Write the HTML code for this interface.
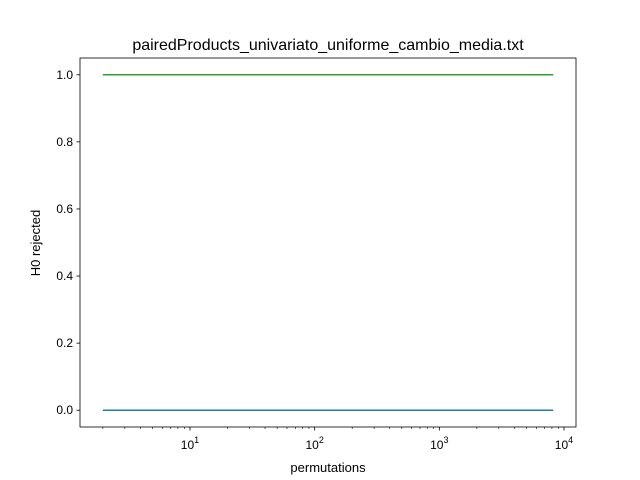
<!DOCTYPE html>
<html><head><meta charset="utf-8"><style>body{margin:0;background:#fff}svg{display:block;font-family:"Liberation Sans","DejaVu Sans",sans-serif}</style></head>
<body>
<svg id="c" width="640" height="480">
<rect width="640" height="480" fill="#fff"/>
<text x="328" y="50" font-size="16" text-anchor="middle">pairedProducts_univariato_uniforme_cambio_media.txt</text>
<text x="328" y="472" font-size="13" text-anchor="middle">permutations</text>
<text x="40" y="243" font-size="13" text-anchor="middle" transform="rotate(-90 40 243)">H0 rejected</text>
<g id="g"></g>
</svg>
<script>
const perms=[2,4,8,16,32,64,128,256,512,1024,2048,4096,8192];
const seriesBlue=[0,0,0,0,0,0,0,0,0,0,0,0,0];
const seriesOrange=[1,1,1,1,1,1,1,1,1,1,1,1,1];
const seriesGreen=[1,1,1,1,1,1,1,1,1,1,1,1,1];
const yTicks=[0,0.2,0.4,0.6,0.8,1.0];
const xTicks=[1,2,3,4];
const L=80,R=576,T=58,B=427;
const xmin=0.1177,xmax=4.0963;
const X=v=>L+(Math.log10(v)-xmin)/(xmax-xmin)*(R-L);
const Y=v=>B-(v+0.05)/1.1*(B-T);
const NS='http://www.w3.org/2000/svg',g=document.getElementById('g');
function mk(t,a){const e=document.createElementNS(NS,t);for(const k in a)e.setAttribute(k,a[k]);g.appendChild(e);return e;}
[[seriesBlue,'#1f77b4','series-blue'],[seriesOrange,'#ff7f0e','series-orange'],[seriesGreen,'#2ca02c','series-green']].forEach(([s,c,n])=>{
const p=mk('polyline',{points:perms.map((v,i)=>X(v)+','+Y(s[i])).join(' '),fill:'none',stroke:c,'stroke-width':1.5});


});
const f=mk('rect',{x:L,y:T,width:R-L,height:B-T,fill:'none',stroke:'#000','stroke-width':0.8});


yTicks.forEach(v=>{const y=Y(v);mk('line',{x1:L-3.5,x2:L,y1:y,y2:y,stroke:'#000','stroke-width':0.8});
const t=mk('text',{x:L-7,y:y+4,'font-size':12,'text-anchor':'end'});t.textContent=v.toFixed(1);

});
for(let d=0;d<=4;d++)for(let m=1;m<10;m++){const v=m*Math.pow(10,d);const x=X(v);if(x<L||x>R)continue;
if(m===1){mk('line',{x1:x,x2:x,y1:B,y2:B+3.5,stroke:'#000','stroke-width':0.8});}
else mk('line',{x1:x,x2:x,y1:B,y2:B+2,stroke:'#000','stroke-width':0.6});}
xTicks.forEach(e=>{const x=X(Math.pow(10,e));const t=mk('text',{x:x,y:B+22,'font-size':12,'text-anchor':'middle'});
t.innerHTML='10<tspan dy="-6" font-size="9">'+e+'</tspan>';

});
</script>
</body></html>
